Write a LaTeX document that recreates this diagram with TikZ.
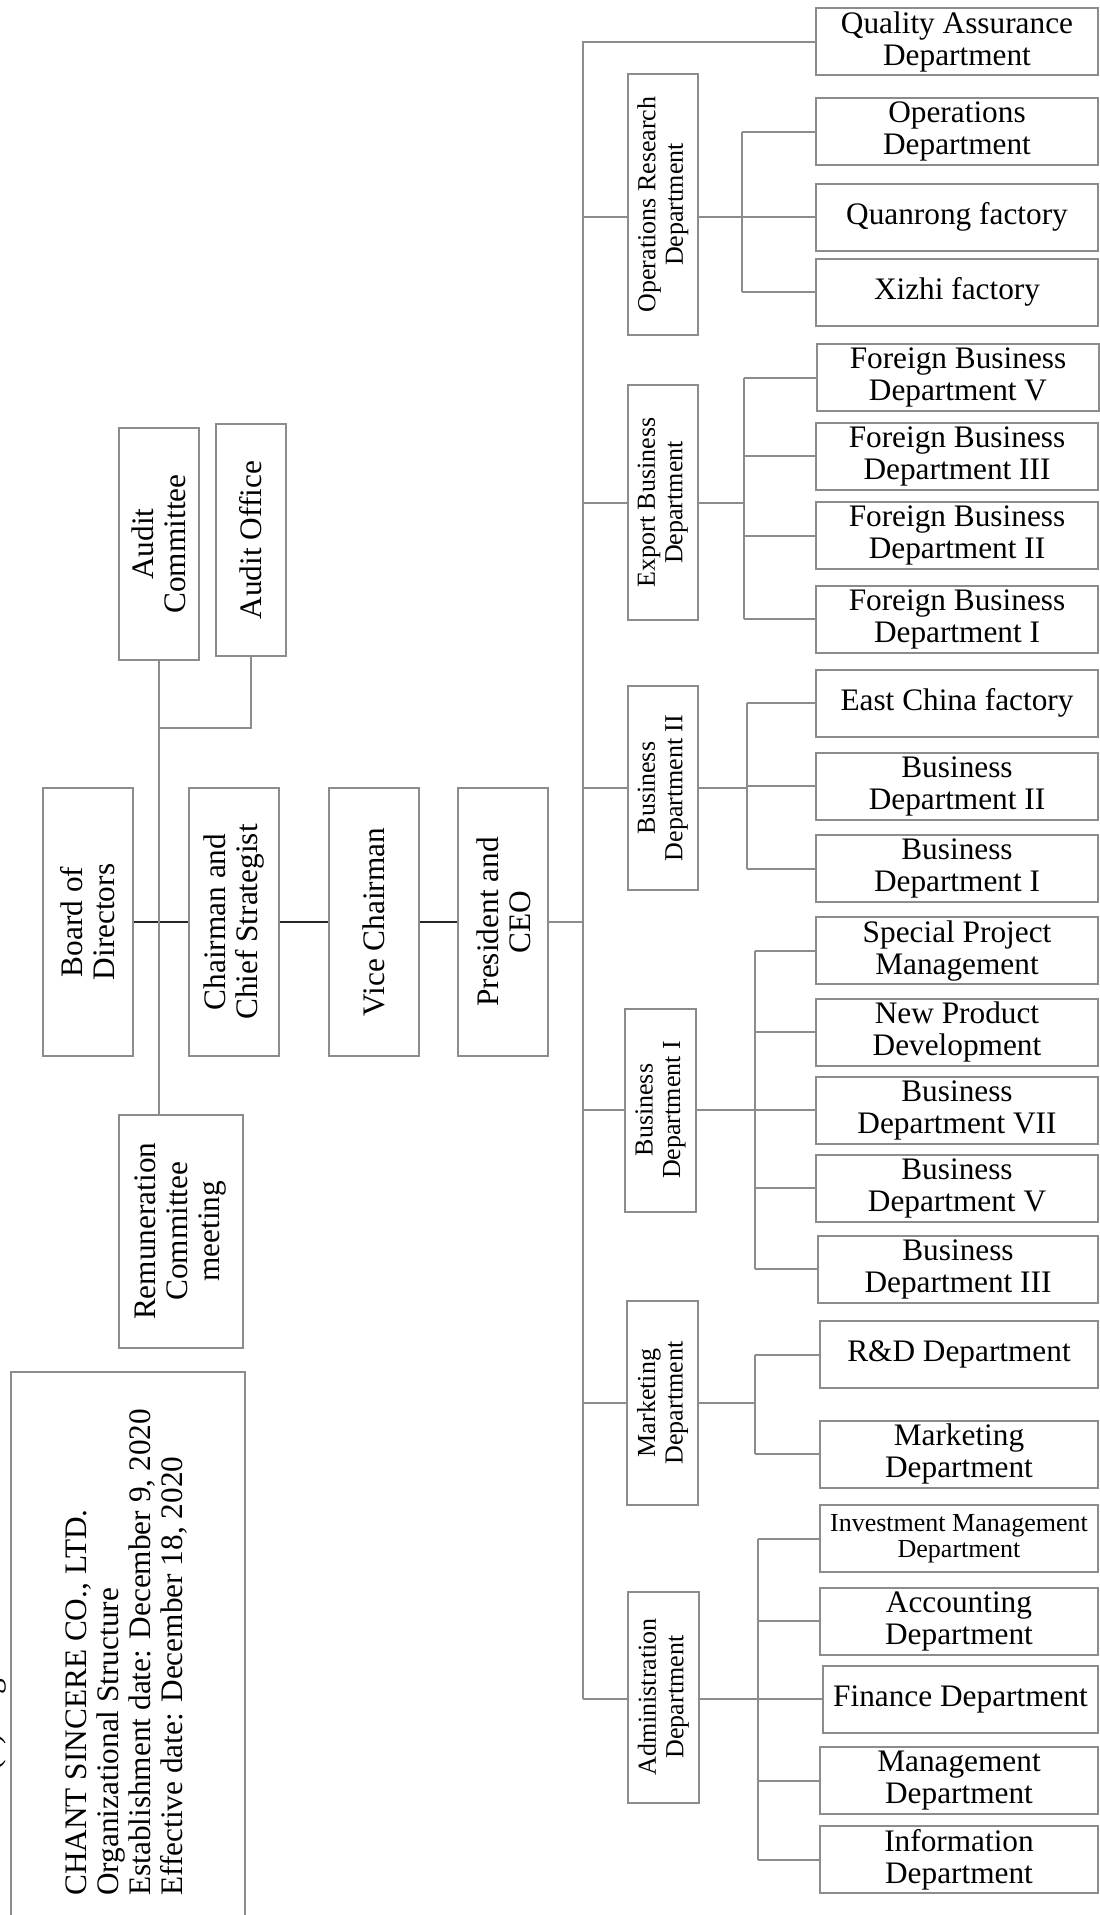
\documentclass[tikz,border=0pt]{standalone}
\usepackage{fontspec}
\setmainfont{Liberation Serif}
\usepackage{xcolor}
\usepackage{tikz}

\begin{document}
\begin{tikzpicture}[x=1pt,y=-1pt,
    frame/.style={draw=black!45,line width=2pt,inner sep=0pt,align=center},
    bigtext/.style={font=\fontsize{31.3}{32}\selectfont},
    smalltext/.style={font=\fontsize{26}{27.5}\selectfont},
    unit/.style={frame,bigtext,minimum width=282,minimum height=67},
    dept/.style={frame,smalltext,rotate=90,minimum height=70.5},
    head/.style={frame,bigtext,rotate=90},
    link/.style={draw=black!45,line width=2pt},
    mainline/.style={draw=black!85,line width=2pt}]
  \useasboundingbox (0,0) rectangle (1100,1915);
  \clip (0,0) rectangle (1100,1915);

  % board and officers
  \node[head,minimum width=268,minimum height=90] (board) at (88,922) {Board of\\Directors};
  \node[head,minimum width=268,minimum height=90] (chair) at (233.7,922) {Chairman and\\Chief Strategist};
  \node[head,minimum width=268,minimum height=90] (vice) at (373.5,922) {Vice Chairman};
  \node[head,minimum width=268,minimum height=90] (ceo) at (503.4,922) {President and\\CEO};
  \node[head,minimum width=232,minimum height=80] (auditc) at (159,544) {Audit\\Committee};
  \node[head,minimum width=232,minimum height=70.5] (audito) at (251,540) {Audit Office};
  \node[head,minimum width=232.5,minimum height=124.5] (remun) at (181,1231.3) {Remuneration\\Committee\\meeting};

  \draw[mainline] (board.south) -- (chair.north);
  \draw[mainline] (chair.south) -- (vice.north);
  \draw[mainline] (vice.south) -- (ceo.north);
  \path (auditc.west) ++(0,67) coordinate (ajoin);
  \draw[link] (audito.west) |- (ajoin);
  \draw[link] (auditc.west) -- (auditc.west |- remun.east);

  % company note
  \node[frame,minimum width=234.5,minimum height=600,anchor=north west] (info) at (9.5,1371.4) {};
  \node[bigtext,rotate=90,align=left,inner sep=0pt,anchor=north west] (infotext) at (66,1896)
    {CHANT SINCERE CO., LTD.\\Organizational Structure\\Establishment date: December 9, 2020\\Effective date: December 18, 2020};
  \node[bigtext,rotate=90,inner sep=0pt,anchor=base west] (title) at (-1,1771) {(1) Organizational Structure};

  % departments
  \node[dept,minimum width=261] (opres) at (662.8,204.5) {Operations Research\\Department};
  \node[dept,minimum width=235] (export) at (662.8,502.5) {Export Business\\Department};
  \node[dept,minimum width=203.6] (bustwo) at (662.8,788) {Business\\Department II};
  \node[dept,minimum width=203] (busone) at (660.5,1110) {Business\\Department I};
  \node[dept,minimum width=204.4] (market) at (662.5,1403) {Marketing\\Department};
  \node[dept,minimum width=211] (admin) at (663.3,1697) {Administration\\Department};

  % units
  \node[unit] (qa) at (957,41.5) {Quality Assurance\\Department};
  \node[unit] (ops) at (957,131.5) {Operations\\Department};
  \node[unit] (quanrong) at (957,217) {Quanrong factory};
  \node[unit] (xizhi) at (957,292) {Xizhi factory};
  \node[unit] (fbdv) at (958,377.8) {Foreign Business\\Department V};
  \node[unit] (fbdiii) at (957,456.3) {Foreign Business\\Department III};
  \node[unit] (fbdii) at (957,535.8) {Foreign Business\\Department II};
  \node[unit] (fbdi) at (957,619.2) {Foreign Business\\Department I};
  \node[unit] (eastchina) at (957,703.1) {East China factory};
  \node[unit] (bdtwo) at (957,786) {Business\\Department II};
  \node[unit] (bdone) at (957,868.6) {Business\\Department I};
  \node[unit] (spm) at (957,950.6) {Special Project\\Management};
  \node[unit] (npd) at (957,1032.1) {New Product\\Development};
  \node[unit] (bdvii) at (957,1110) {Business\\Department VII};
  \node[unit] (bdv) at (957,1188.3) {Business\\Department V};
  \node[unit,minimum width=280] (bdiii) at (958,1269) {Business\\Department III};
  \node[unit,minimum width=278] (rnd) at (959,1354.7) {R\&D Department};
  \node[unit,minimum width=278] (mkt) at (959,1454.1) {Marketing\\Department};
  \node[unit,minimum width=278,font=\fontsize{26}{26.5}\selectfont] (imd) at (959,1538.8) {Investment Management\\Department};
  \node[unit,minimum width=278] (acc) at (959,1621.3) {Accounting\\Department};
  \node[unit,minimum width=275] (fin) at (960.5,1699) {Finance Department};
  \node[unit,minimum width=278] (mgmt) at (959,1780.5) {Management\\Department};
  \node[unit,minimum width=278] (info) at (959,1859.9) {Information\\Department};

  \coordinate (bus) at (582.5,0);
  \draw[link] (qa.west) -| (bus |- fin);
  \draw[link] (ceo.south) -- (bus |- ceo.south);

  \foreach \d/\m/\s/\fk/\lk/\kids in {
      opres/quanrong/742/ops/xizhi/{ops,quanrong,xizhi},
      export/export/744/fbdv/fbdi/{fbdv,fbdiii,fbdii,fbdi},
      bustwo/bustwo/747/eastchina/bdone/{eastchina,bdtwo,bdone},
      busone/bdvii/754.6/spm/bdiii/{spm,npd,bdvii,bdv,bdiii},
      market/market/754.6/rnd/mkt/{rnd,mkt},
      admin/fin/758/imd/info/{imd,acc,fin,mgmt,info}}{
    \coordinate (sub) at (\s,0);
    \draw[link] (bus |- \m) -- (\d.north |- \m);
    \draw[link] (\d.south |- \m) -- (sub |- \m);
    \draw[link] (sub |- \fk.west) -- (sub |- \lk.west);
    \foreach \k in \kids \draw[link] (sub |- \k.west) -- (\k.west);
  }
\end{tikzpicture}
\end{document}
